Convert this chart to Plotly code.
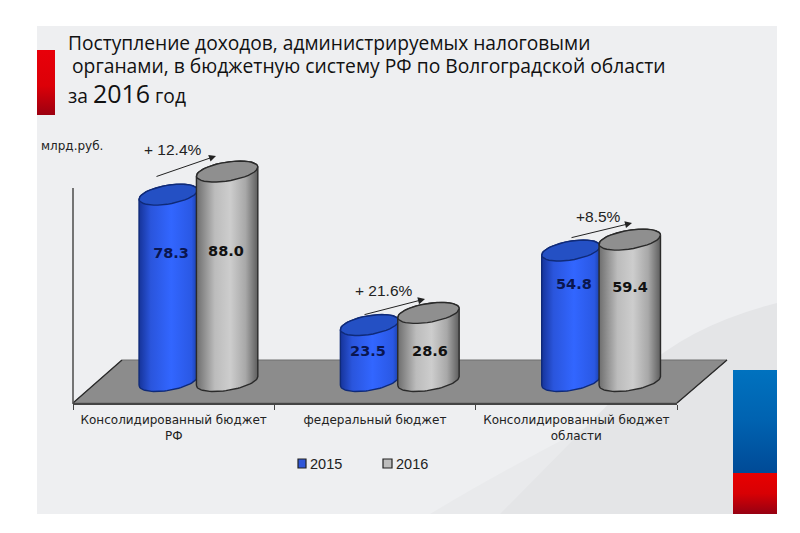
import numpy as np
import plotly.graph_objects as go

W, H = 800, 533

categories = ["Консолидированный бюджет<br>РФ", "федеральный бюджет", "Консолидированный бюджет<br>области"]
series_names = ["2015", "2016"]
values_2015 = [78.3, 23.5, 54.8]
values_2016 = [88.0, 28.6, 59.4]
growth_labels = ["+ 12.4%", "+ 21.6%", "+8.5%"]

# value height of the printed numbers inside the cylinders
label_y_2015 = [53.4, 12.2, 40.3]
label_y_2016 = [54.2, 12.2, 39.1]
label_dx_2015 = [-0.013, -0.035, -0.012]
label_dx_2016 = [0.26, 0.273, 0.267]

FONT = "DejaVu Sans"
NUM_FONT = "Liberation Sans"
TITLE_FONT = "Open Sans"

PX_PER_UNIT = 2.38
BASE_PX = 381
AXIS_PX = 403
RY = 9.5 / PX_PER_UNIT
TILT = 4.5 / PX_PER_UNIT

BLUE = dict(
    left=-0.172, width=0.29, cap="#2450c4", line="#0f2a78",
    scale=[[0, "#16349a"], [0.2, "#2a55dc"], [0.55, "#3266ff"], [0.9, "#2a58e4"], [1, "#1a40a8"]],
)
GREY = dict(
    left=0.113, width=0.305, cap="#8f8f8f", line="#2a2a2a",
    scale=[[0, "#6e6e6e"], [0.3, "#bcbcbc"], [0.55, "#cdcdcd"], [0.8, "#a8a8a8"], [1, "#5e5e5e"]],
)


def px(x):
    return x / W


def py(y):
    return 1 - y / H


def ellipse(x_left, width, level, start, stop):
    t = np.linspace(start, stop, 40)
    xs = x_left + width / 2 + width / 2 * np.cos(t)
    ys = level + RY * np.sin(t) + TILT * np.cos(t)
    return xs, ys


def add_cylinder(fig, pos, value, style, name):
    x_left = pos + style["left"]
    bx, by = ellipse(x_left, style["width"], 0, np.pi, 2 * np.pi)
    tx, ty = ellipse(x_left, style["width"], value, 0, np.pi)
    fig.add_trace(go.Scatter(
        x=np.concatenate([bx, tx, bx[:1]]), y=np.concatenate([by, ty, by[:1]]),
        mode="lines", fill="toself", name=name,
        fillgradient=dict(type="horizontal", colorscale=style["scale"]),
        line=dict(color=style["line"], width=1.4),
        showlegend=False, hoverinfo="skip",
    ))
    cx, cy = ellipse(x_left, style["width"], value, 0, 2 * np.pi)
    fig.add_trace(go.Scatter(
        x=cx, y=cy, mode="lines", fill="toself", fillcolor=style["cap"],
        line=dict(color=style["line"], width=1.4),
        showlegend=False, hoverinfo="skip",
    ))


fig = go.Figure()

for i in range(len(categories)):
    add_cylinder(fig, i, values_2015[i], BLUE, series_names[0])
    add_cylinder(fig, i, values_2016[i], GREY, series_names[1])

fig.add_trace(go.Scatter(
    x=[i + d for i, d in enumerate(label_dx_2015)], y=label_y_2015,
    mode="text", text=[f"{v:.1f}" for v in values_2015],
    textfont=dict(family=FONT, size=14.5, color="#0a1650", weight="bold"),
    showlegend=False, hoverinfo="skip",
))
fig.add_trace(go.Scatter(
    x=[i + d for i, d in enumerate(label_dx_2016)], y=label_y_2016,
    mode="text", text=[f"{v:.1f}" for v in values_2016],
    textfont=dict(family=FONT, size=14.5, color="#111111", weight="bold"),
    showlegend=False, hoverinfo="skip",
))


def gradient_block(x0, x1, y0, y1, colors):
    # decorative blocks, drawn on a second full-page pixel axis pair
    fig.add_trace(go.Scatter(
        x=[x0, x1, x1, x0, x0], y=[y0, y0, y1, y1, y0],
        mode="lines", fill="toself", line=dict(width=0), xaxis="x2", yaxis="y2",
        fillgradient=dict(type="vertical", colorscale=colors),
        showlegend=False, hoverinfo="skip",
    ))


# colour stops run bottom to top
gradient_block(37, 55, 50, 115, [[0, "#9c0010"], [0.45, "#dc0008"], [1, "#e8000a"]])
gradient_block(733, 777, 370, 473, [[0, "#004a96"], [0.5, "#0062b0"], [1, "#0072bf"]])
gradient_block(733, 777, 473, 514, [[0, "#960012"], [0.5, "#d80004"], [1, "#e80000"]])

shapes = [
    dict(type="rect", xref="paper", yref="paper", x0=px(37), x1=px(777), y0=py(514), y1=py(26),
         fillcolor="#eeeff1", line_width=0, layer="below"),
    dict(type="path", xref="paper", yref="paper", layer="below", fillcolor="#e9eaec", line_width=0,
         path=f"M {px(777)} {py(330)} L {px(640)} {py(400)} Q {px(520)} {py(460)} {px(430)} {py(514)} "
              f"L {px(777)} {py(514)} Z"),
    dict(type="path", xref="paper", yref="paper", layer="below", fillcolor="#e4e5e7", line_width=0,
         path=f"M {px(777)} {py(303)} Q {px(690)} {py(325)} {px(640)} {py(372)} "
              f"L {px(500)} {py(514)} L {px(777)} {py(514)} Z"),
    dict(type="path", xref="paper", yref="paper", layer="below", fillcolor="#8c8c8c",
         line=dict(color="#6f6f6f", width=1),
         path=f"M {px(73)} {py(403)} L {px(122)} {py(360)} L {px(727)} {py(360)} L {px(677)} {py(403)} Z"),
    dict(type="line", xref="paper", yref="paper", layer="below", line=dict(color="#2a2a2a", width=1.3),
         x0=px(677), y0=py(403), x1=px(727), y1=py(360)),
    dict(type="line", xref="paper", yref="paper", layer="below", line=dict(color="#2a2a2a", width=1.3),
         x0=px(73), y0=py(403), x1=px(122), y1=py(360)),
    dict(type="line", xref="paper", yref="paper", layer="below", line=dict(color="#555555", width=1.6),
         x0=px(73), y0=py(188), x1=px(73), y1=py(404)),
    dict(type="rect", xref="paper", yref="paper", x0=px(298), x1=px(306), y0=py(468), y1=py(459),
         fillcolor="#2f56d8", line=dict(color="#222222", width=1.2)),
    dict(type="rect", xref="paper", yref="paper", x0=px(383), x1=px(392), y0=py(468), y1=py(459),
         fillcolor="#bdbdbd", line=dict(color="#222222", width=1.2)),
]


def text(x, y, s, size, family=FONT, anchor="left", color="#222222"):
    return dict(xref="paper", yref="paper", x=px(x), y=py(y), text=s, showarrow=False,
                xanchor=anchor, yanchor="middle", font=dict(family=family, size=size, color=color))


def arrow(x0, y0, x1, y1):
    return dict(xref="paper", yref="paper", x=px(x1), y=py(y1), ax=x0 - x1, ay=y0 - y1, text="",
                showarrow=True, arrowhead=2, arrowsize=1.4, arrowwidth=1, arrowcolor="#222222")


annotations = [
    text(66, 42, "Поступление доходов, администрируемых налоговыми", 19.2, TITLE_FONT, color="#111111"),
    text(70, 66, "органами, в бюджетную систему РФ по Волгоградской области", 19.3, TITLE_FONT, color="#111111"),
    text(66, 93, 'за <span style="font-size:25px">2016</span> год', 19.2, TITLE_FONT, color="#111111"),
    text(39, 146, "млрд.руб.", 12),
    text(173, 150, growth_labels[0], 15.5, NUM_FONT, anchor="center"),
    text(384, 290, growth_labels[1], 15.5, NUM_FONT, anchor="center"),
    text(598, 216, growth_labels[2], 15.5, NUM_FONT, anchor="center"),
    arrow(155, 177, 216, 156),
    arrow(363, 315, 425, 299),
    arrow(570, 238, 632, 223),
    text(308, 464, series_names[0], 14.5, NUM_FONT),
    text(394, 464, series_names[1], 14.5, NUM_FONT),
]

fig.update_layout(
    width=W, height=H, margin=dict(l=0, r=0, t=0, b=0),
    paper_bgcolor="white", plot_bgcolor="rgba(0,0,0,0)",
    showlegend=False, shapes=shapes, annotations=annotations,
    xaxis=dict(
        domain=[px(73), px(677)], range=[-0.5, 2.5], tickmode="array", tickvals=[0, 1, 2],
        ticktext=categories, ticks="", showgrid=False, zeroline=False,
        showline=True, linecolor="#444444", linewidth=2,
        tickfont=dict(family=FONT, size=12, color="#222222"), ticklabelstandoff=5,
        minor=dict(tickmode="array", tickvals=[-0.5, 0.5, 1.5, 2.5], ticks="outside",
                   ticklen=5, tickcolor="#444444", tickwidth=1, showgrid=False),
    ),
    yaxis=dict(
        domain=[py(AXIS_PX), 1],
        range=[(BASE_PX - AXIS_PX) / PX_PER_UNIT, BASE_PX / PX_PER_UNIT],
        visible=False,
    ),
    xaxis2=dict(domain=[0, 1], range=[0, W], visible=False, anchor="y2"),
    yaxis2=dict(domain=[0, 1], range=[H, 0], visible=False, anchor="x2"),
)

fig.write_html("out.html", config={"displayModeBar": False}, post_script="document.body.style.margin='0';")
